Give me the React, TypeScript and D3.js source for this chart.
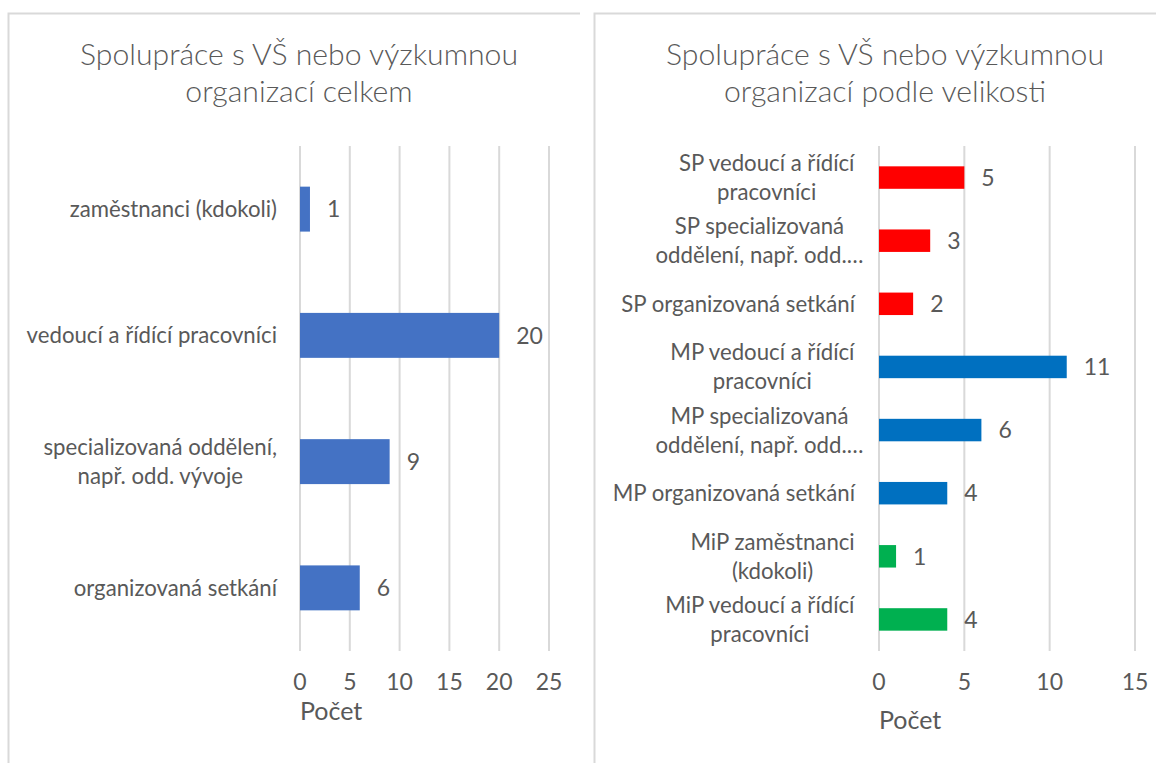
import React from "react";
import * as d3 from "d3";

// ---- data ----
const leftCategories = [
  "zaměstnanci (kdokoli)",
  "vedoucí a řídící pracovníci",
  "specializovaná oddělení,\nnapř. odd. vývoje",
  "organizovaná setkání",
];
const leftValues = [1, 20, 9, 6];
const leftTicks = [0, 5, 10, 15, 20, 25];

const rightCategories = [
  "SP vedoucí a řídící\npracovníci",
  "SP specializovaná\noddělení, např. odd.…",
  "SP organizovaná setkání",
  "MP vedoucí a řídící\npracovníci",
  "MP specializovaná\noddělení, např. odd.…",
  "MP organizovaná setkání",
  "MiP zaměstnanci\n(kdokoli)",
  "MiP vedoucí a řídící\npracovníci",
];
const rightValues = [5, 3, 2, 11, 6, 4, 1, 4];
const rightGroups = ["SP", "SP", "SP", "MP", "MP", "MP", "MiP", "MiP"];
const rightTicks = [0, 5, 10, 15];

const leftTitle = ["Spolupráce s VŠ nebo výzkumnou", "organizací celkem"];
const rightTitle = ["Spolupráce s VŠ nebo výzkumnou", "organizací podle velikosti"];
const axisTitle = "Počet";

const groupColors: Record<string, string> = { SP: "#FF0000", MP: "#0070C0", MiP: "#00B050" };
const leftColor = "#4472C4";

const FONT = "Lato, 'Open Sans', sans-serif";
const TEXT = "#595959";
const GRID = "#d9d9d9";
const LABEL_SIZE = 22.2;

let ctx: CanvasRenderingContext2D | null = null;
function measure(s: string, size: number) {
  if (!ctx) {
    const c = document.createElement("canvas");
    ctx = c.getContext("2d");
  }
  if (!ctx) return s.length * size * 0.5;
  ctx.font = `${size}px Lato`;
  return ctx.measureText(s.replace(/…$/, "")).width;
}

type PanelProps = {
  cats: string[];
  vals: number[];
  colors: string[];
  ticks: number[];
  xMax: number;
  x0: number;
  x1: number;
  labelRight: number;
  titleLines: string[];
  titleX: number;
  axisTitleY: number;
};

function Panel(p: PanelProps) {
  const top = 146;
  const bottom = 651;
  const x = d3.scaleLinear().domain([0, p.xMax]).range([p.x0, p.x1]);
  const y = d3
    .scaleBand<number>()
    .domain(d3.range(p.cats.length))
    .range([top, bottom])
    .paddingInner(0.644)
    .paddingOuter(0.322);
  const bw = y.bandwidth();
  const lineH = 29;
  return (
    <g>
      {p.titleLines.map((t, i) => (
        <text
          key={i}
          x={p.titleX}
          y={65 + i * 37}
          textAnchor="middle"
          fontFamily={FONT}
          fontWeight={300}
          fontSize={30.2}
          fill={TEXT}
        >
          {t}
        </text>
      ))}
      {p.ticks.map((t) => (
        <line key={"g" + t} x1={x(t)} x2={x(t)} y1={top} y2={bottom} stroke={GRID} strokeWidth={2} />
      ))}
      {p.vals.map((v, i) => (
        <rect key={"b" + i} x={x(0)} y={y(i)} width={x(v) - x(0)} height={bw} fill={p.colors[i]} />
      ))}
      {p.vals.map((v, i) => (
        <text
          key={"v" + i}
          x={x(v) + 17}
          y={(y(i) as number) + bw / 2}
          dy="0.36em"
          fontFamily={FONT}
          fontSize={23}
          fill={TEXT}
        >
          {v}
        </text>
      ))}
      {p.cats.map((c, i) => {
        const lines = c.split("\n");
        const cy = (y(i) as number) + bw / 2;
        if (lines.length === 1) {
          return (
            <text
              key={"c" + i}
              x={p.labelRight}
              y={cy}
              dy="0.36em"
              textAnchor="end"
              fontFamily={FONT}
              fontSize={LABEL_SIZE}
              fill={TEXT}
            >
              {c}
            </text>
          );
        }
        const maxW = Math.max(...lines.map((l) => measure(l, LABEL_SIZE)));
        const cx = p.labelRight - maxW / 2;
        return (
          <g key={"c" + i}>
            {lines.map((l, j) => (
              <text
                key={j}
                x={cx}
                y={cy + (j - (lines.length - 1) / 2) * lineH}
                dy="0.36em"
                textAnchor="middle"
                fontFamily={FONT}
                fontSize={LABEL_SIZE}
                fill={TEXT}
              >
                {l}
              </text>
            ))}
          </g>
        );
      })}
      {p.ticks.map((t) => (
        <text
          key={"t" + t}
          x={x(t)}
          y={690}
          textAnchor="middle"
          fontFamily={FONT}
          fontSize={23}
          fill={TEXT}
        >
          {t}
        </text>
      ))}
      <text x={x(0)} y={p.axisTitleY} fontFamily={FONT} fontSize={25} fill={TEXT}>
        {axisTitle}
      </text>
    </g>
  );
}

export default function App() {
  return (
    <svg
      width={1156}
      height={763}
      style={{ position: "absolute", left: 0, top: 0, background: "#fff" }}
    >
      <rect x={0} y={0} width={1156} height={763} fill="#fff" />
      <path d="M8.5,770 V13.5 H580" fill="none" stroke={GRID} strokeWidth={2} />
      <path d="M594.5,770 V13.5 H1160" fill="none" stroke={GRID} strokeWidth={2} />
      <Panel
        cats={leftCategories}
        vals={leftValues}
        colors={leftValues.map(() => leftColor)}
        ticks={leftTicks}
        xMax={25}
        x0={300}
        x1={549}
        labelRight={277}
        titleLines={leftTitle}
        titleX={299}
        axisTitleY={720}
      />
      <Panel
        cats={rightCategories}
        vals={rightValues}
        colors={rightGroups.map((g) => groupColors[g])}
        ticks={rightTicks}
        xMax={15}
        x0={879}
        x1={1135}
        labelRight={855}
        titleLines={rightTitle}
        titleX={885}
        axisTitleY={729}
      />
    </svg>
  );
}
